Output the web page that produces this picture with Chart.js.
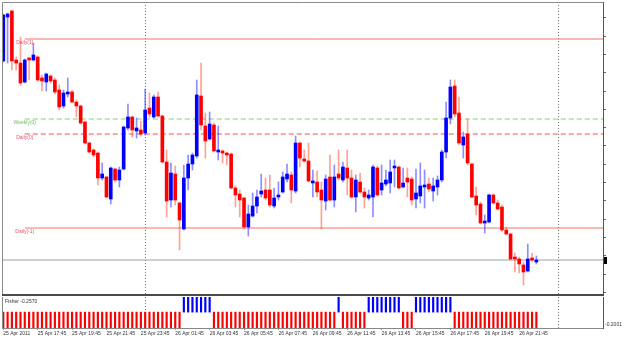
<!DOCTYPE html>
<html><head><meta charset="utf-8">
<script src="https://cdn.jsdelivr.net/npm/chart.js@4.4.0/dist/chart.umd.min.js"></script>
<style>
html,body{margin:0;padding:0;background:#fff;}
#wrap{position:relative;width:625px;height:339px;overflow:hidden;background:#fff;}
#main{position:absolute;left:0;top:0;}
#sub{position:absolute;left:0;top:296px;}
</style></head><body>
<div id="wrap"><canvas id="main" width="625" height="296"></canvas><canvas id="sub" width="625" height="43"></canvas></div>
<script>
// ---- data (M15 bars) ----
const openP = [1.4833,1.4877,1.4883,1.4834,1.4831,1.4812,1.4836,1.4834,1.4837,1.4816,1.4812,1.4818,1.4814,1.4804,1.4788,1.4800,1.4802,1.4792,1.4788,1.4772,
1.4751,1.4744,1.4741,1.4716,1.4717,1.4695,1.4725,1.4714,1.4725,1.4766,1.4777,1.4763,1.4764,1.4761,1.4786,1.4777,1.4797,1.4778,1.4732,1.4694,
1.4720,1.4691,1.4665,1.4716,1.4730,1.4738,1.4798,1.4768,1.4755,1.4769,1.4742,1.4743,1.4741,1.4740,1.4706,1.4700,1.4696,1.4667,1.4678,1.4688,
1.4700,1.4704,1.4704,1.4688,1.4697,1.4702,1.4715,1.4719,1.4703,1.4751,1.4735,1.4733,1.4711,1.4712,1.4704,1.4693,1.4717,1.4694,1.4720,1.4714,
1.4726,1.4716,1.4697,1.4712,1.4702,1.4696,1.4697,1.4726,1.4704,1.4710,1.4711,1.4726,1.4727,1.4707,1.4716,1.4715,1.4695,1.4698,1.4707,1.4710,
1.4703,1.4707,1.4714,1.4742,1.4776,1.4808,1.4781,1.4749,1.4760,1.4730,1.4698,1.4690,1.4671,1.4672,1.4699,1.4691,1.4687,1.4664,1.4660,1.4637,
1.4635,1.4629,1.4623,1.4636,1.4632];
const highP = [1.4880,1.4881,1.4884,1.4837,1.4857,1.4835,1.4837,1.4851,1.4838,1.4819,1.4821,1.4819,1.4816,1.4809,1.4804,1.4816,1.4804,1.4794,1.4789,1.4773,
1.4752,1.4745,1.4742,1.4731,1.4718,1.4727,1.4726,1.4727,1.4768,1.4790,1.4778,1.4776,1.4773,1.4805,1.4801,1.4799,1.4802,1.4779,1.4744,1.4731,
1.4728,1.4692,1.4729,1.4739,1.4741,1.4814,1.4831,1.4781,1.4782,1.4771,1.4768,1.4744,1.4742,1.4741,1.4708,1.4704,1.4697,1.4689,1.4701,1.4704,
1.4720,1.4716,1.4719,1.4706,1.4712,1.4722,1.4730,1.4722,1.4758,1.4752,1.4744,1.4751,1.4724,1.4723,1.4712,1.4719,1.4739,1.4729,1.4744,1.4732,
1.4744,1.4724,1.4719,1.4721,1.4706,1.4704,1.4729,1.4728,1.4729,1.4724,1.4734,1.4734,1.4728,1.4726,1.4726,1.4717,1.4725,1.4731,1.4724,1.4716,
1.4716,1.4718,1.4744,1.4792,1.4814,1.4814,1.4797,1.4762,1.4775,1.4731,1.4707,1.4692,1.4679,1.4700,1.4700,1.4694,1.4689,1.4667,1.4661,1.4641,
1.4637,1.4632,1.4650,1.4641,1.4638];
const lowP = [1.4832,1.4831,1.4824,1.4824,1.4809,1.4811,1.4814,1.4833,1.4813,1.4803,1.4803,1.4811,1.4800,1.4784,1.4786,1.4797,1.4791,1.4777,1.4770,1.4750,
1.4741,1.4737,1.4709,1.4714,1.4696,1.4690,1.4712,1.4707,1.4724,1.4764,1.4757,1.4756,1.4758,1.4759,1.4777,1.4776,1.4777,1.4731,1.4677,1.4687,
1.4689,1.4644,1.4664,1.4704,1.4724,1.4736,1.4764,1.4736,1.4754,1.4742,1.4734,1.4731,1.4729,1.4705,1.4687,1.4677,1.4665,1.4658,1.4677,1.4681,
1.4697,1.4694,1.4687,1.4686,1.4694,1.4701,1.4712,1.4691,1.4701,1.4727,1.4732,1.4712,1.4697,1.4697,1.4665,1.4684,1.4693,1.4687,1.4714,1.4712,
1.4699,1.4696,1.4682,1.4701,1.4686,1.4694,1.4677,1.4698,1.4699,1.4708,1.4701,1.4707,1.4705,1.4706,1.4697,1.4689,1.4686,1.4691,1.4686,1.4702,
1.4693,1.4699,1.4712,1.4736,1.4770,1.4777,1.4749,1.4736,1.4729,1.4696,1.4679,1.4670,1.4661,1.4671,1.4690,1.4684,1.4662,1.4659,1.4634,1.4622,
1.4621,1.4609,1.4622,1.4632,1.4630];
const closeP = [1.4879,1.4880,1.4833,1.4831,1.4811,1.4834,1.4834,1.4839,1.4814,1.4813,1.4820,1.4813,1.4802,1.4787,1.4801,1.4802,1.4792,1.4788,1.4771,1.4751,
1.4742,1.4739,1.4716,1.4720,1.4697,1.4726,1.4714,1.4724,1.4767,1.4777,1.4764,1.4766,1.4760,1.4784,1.4780,1.4797,1.4778,1.4732,1.4693,1.4721,
1.4694,1.4674,1.4716,1.4730,1.4739,1.4799,1.4769,1.4753,1.4770,1.4743,1.4744,1.4741,1.4739,1.4706,1.4699,1.4694,1.4667,1.4680,1.4688,1.4697,
1.4703,1.4696,1.4689,1.4696,1.4699,1.4717,1.4720,1.4704,1.4751,1.4736,1.4733,1.4713,1.4713,1.4702,1.4694,1.4715,1.4694,1.4717,1.4716,1.4727,
1.4716,1.4697,1.4714,1.4702,1.4697,1.4699,1.4727,1.4699,1.4711,1.4714,1.4722,1.4728,1.4706,1.4711,1.4712,1.4694,1.4701,1.4708,1.4709,1.4705,
1.4708,1.4714,1.4742,1.4776,1.4807,1.4780,1.4751,1.4757,1.4731,1.4697,1.4689,1.4671,1.4673,1.4699,1.4691,1.4685,1.4664,1.4660,1.4635,1.4635,
1.4630,1.4622,1.4635,1.4634,1.4634];
const fisher = [-1.12,-1.35,-1.58,-1.71,-1.86,-1.93,-1.98,-2.04,-2.11,-2.15,-2.19,-2.22,-2.27,-2.33,-2.36,-2.38,-2.41,-2.45,-2.52,-2.61,
-2.70,-2.78,-2.86,-2.90,-2.95,-2.89,-2.81,-2.70,-2.18,-1.64,-1.21,-0.95,-0.83,-0.61,-0.52,-0.38,-0.41,-0.66,-0.98,-1.07,
-1.12,-1.31,0.34,0.52,0.71,1.15,1.28,1.06,0.87,-0.31,-0.49,-0.66,-0.82,-1.10,-1.34,-1.55,-1.79,-1.83,-1.80,-1.71,
-1.62,-1.57,-1.54,-1.46,-1.39,-1.21,-1.02,-0.86,-0.58,-0.44,-0.47,-0.55,-0.61,-0.67,-0.52,-0.49,-0.36,-0.29,0.23,-0.25,
-0.27,-0.33,-0.31,-0.36,-0.40,0.21,0.35,0.39,0.42,0.51,0.63,0.66,0.48,-0.22,-0.30,-0.34,0.24,0.27,0.29,0.31,
0.33,0.38,0.56,0.94,1.42,-0.21,-0.28,-0.36,-0.49,-0.68,-0.87,-1.04,-1.12,-1.06,-1.10,-1.18,-1.29,-1.41,-1.55,-1.48,
-1.27,-0.98,-0.71,-0.44,-0.2570];
const timeTickIndex = [0,8,16,24,32,40,48,56,64,72,80,88,96,104,112,120];
const timeLabels = ['25 Apr 2011','25 Apr 17:45','25 Apr 19:45','25 Apr 21:45','25 Apr 23:45','26 Apr 01:45','26 Apr 03:45','26 Apr 05:45',
  '26 Apr 07:45','26 Apr 09:45','26 Apr 11:45','26 Apr 13:45','26 Apr 15:45','26 Apr 17:45','26 Apr 19:45','26 Apr 21:45'];
const daySeparators = [33, 129];
const levelNames = ['Daily(1)','Weekly(0)','Daily(0)','Daily(-1)'];
const levelValues = [1.4855, 1.4775, 1.4760, 1.4666];
const levelStartBar = 5;
const fisherTitle = 'Fisher -0.2570';
const fisherAxisMin = -0.2001;
const fisherAxisMax = 0.19;
const priceMin = 1.4600, priceMax = 1.4892;
const priceTickStart = 1.46017, priceTickStep = 0.00183;
const xMin = -0.3, xMax = 139.5;

// ---- styles ----
const FONT = '"Liberation Sans", Arial, sans-serif';
const BLUE = '#0000ff', RED = '#ff0000';
const levelLineColors = ['#f27563','#8dcc7d','#ff4b4b','#f27563'];
const levelDash = [[],[5,3],[5,3],[]];
const levelTextColors = ['#f0506a','#6cbf5c','#f0506a','#f0506a'];

const idx = openP.map((_, i) => i);
const bodies = idx.map(i => ({x: i, y: [openP[i], closeP[i]]}));
const wicks = idx.map(i => ({x: i, y: [lowP[i], highP[i]]}));
const bodyColors = idx.map(i => closeP[i] >= openP[i] ? BLUE : RED);
const wickColors = idx.map(i => closeP[i] >= openP[i] ? 'rgba(30,30,255,0.5)' : 'rgba(255,70,40,0.5)');
const lastClose = closeP[closeP.length - 1];

const levelDatasets = levelValues.map((v, k) => ({
  type: 'line', data: [{x: levelStartBar, y: v}, {x: xMax, y: v}],
  borderColor: levelLineColors[k], borderWidth: 1, borderDash: levelDash[k],
  pointRadius: 0, fill: false, order: 3
}));

const commonOpts = {
  responsive: false, animation: false, devicePixelRatio: 1, events: [],
  plugins: {legend: {display: false}, tooltip: {enabled: false}}
};

const sepPlugin = {
  id: 'sep',
  beforeDatasetsDraw(c) {
    const {ctx, chartArea: a, scales: {x}} = c;
    ctx.save();
    ctx.strokeStyle = '#7a7a7a'; ctx.lineWidth = 1; ctx.setLineDash([1, 2]);
    for (const s of daySeparators) {
      const px = Math.round(x.getPixelForValue(s)) + 0.5;
      ctx.beginPath(); ctx.moveTo(px, a.top); ctx.lineTo(px, a.bottom); ctx.stroke();
    }
    ctx.restore();
  }
};

const frameMain = {
  id: 'frameMain',
  afterDraw(c) {
    const {ctx, chartArea: a, scales: {x, y}} = c;
    ctx.save();
    ctx.strokeStyle = '#8a8a8a'; ctx.lineWidth = 1;
    ctx.beginPath(); ctx.moveTo(a.left + 0.5, a.bottom); ctx.lineTo(a.left + 0.5, a.top + 0.5); ctx.lineTo(a.right, a.top + 0.5); ctx.stroke();
    ctx.fillStyle = '#4a4a4a'; ctx.fillRect(a.left, a.bottom, a.right - a.left + 1, 2);
    ctx.font = '5px ' + FONT; ctx.textAlign = 'center'; ctx.textBaseline = 'top';
    levelNames.forEach((n, k) => {
      ctx.fillStyle = levelTextColors[k];
      ctx.fillText(n, x.getPixelForValue(levelStartBar), y.getPixelForValue(levelValues[k]) + 1.5);
    });
    const by = Math.round(y.getPixelForValue(lastClose));
    ctx.fillStyle = '#000'; ctx.fillRect(a.right + 1, by - 3, 3, 7);
    ctx.restore();
  }
};

const frameSub = {
  id: 'frameSub',
  afterDraw(c) {
    const {ctx, chartArea: a, scales: {y}} = c;
    ctx.save();
    ctx.strokeStyle = '#8a8a8a'; ctx.lineWidth = 1;
    ctx.beginPath(); ctx.moveTo(a.left + 0.5, a.top); ctx.lineTo(a.left + 0.5, a.bottom); ctx.stroke();
    ctx.font = '5px ' + FONT; ctx.textAlign = 'left'; ctx.textBaseline = 'top'; ctx.fillStyle = '#333';
    ctx.fillText(fisherTitle, a.left + 3, a.top + 2);
    ctx.textBaseline = 'bottom';
    ctx.fillText(fisherAxisMin.toFixed(4), a.right + 2, y.getPixelForValue(fisherAxisMin) - 1);
    ctx.restore();
  }
};

new Chart(document.getElementById('main'), {
  type: 'bar',
  data: {datasets: [
    {type: 'bar', data: bodies, backgroundColor: bodyColors, barThickness: 3, grouped: false, order: 1},
    {type: 'bar', data: wicks, backgroundColor: wickColors, barThickness: 1, grouped: false, order: 2},
    ...levelDatasets,
    {type: 'line', data: [{x: xMin, y: lastClose}, {x: xMax, y: lastClose}], borderColor: '#a0a0a0', borderWidth: 1, pointRadius: 0, order: 4}
  ]},
  options: Object.assign({}, commonOpts, {
    layout: {padding: {left: 2, top: 2, right: 0, bottom: 2}},
    scales: {
      x: {type: 'linear', display: false, min: xMin, max: xMax, offset: false, grid: {offset: false}},
      y: {
        position: 'right', min: priceMin, max: priceMax, beginAtZero: false,
        afterBuildTicks(s) { const t = []; for (let v = priceTickStart; v < priceMax; v += priceTickStep) t.push({value: v}); s.ticks = t; },
        afterFit(s) { s.width = 22; },
        ticks: {display: false},
        grid: {drawOnChartArea: false, drawTicks: true, tickLength: 3, color: '#666'},
        border: {display: true, color: '#555'}
      }
    }
  }),
  plugins: [sepPlugin, frameMain]
});

new Chart(document.getElementById('sub'), {
  type: 'bar',
  data: {datasets: [
    {type: 'bar', data: idx.map(i => ({x: i, y: fisher[i]})), backgroundColor: idx.map(i => fisher[i] >= 0 ? BLUE : RED),
     barThickness: 1.5, grouped: false}
  ]},
  options: Object.assign({}, commonOpts, {
    layout: {padding: {left: 2, top: 1, right: 0, bottom: 0}},
    scales: {
      x: {
        type: 'linear', min: xMin, max: xMax, offset: false,
        afterBuildTicks(s) { s.ticks = timeTickIndex.map(v => ({value: v})); },
        afterFit(s) { s.height = 11; },
        ticks: {autoSkip: false, maxRotation: 0, minRotation: 0, align: 'start', padding: 1, color: '#333',
          font: {size: 5, family: FONT}, callback: v => timeLabels[timeTickIndex.indexOf(v)]},
        grid: {drawOnChartArea: false, drawTicks: true, tickLength: 2, color: '#999', offset: false},
        border: {display: true, color: '#888'}
      },
      y: {
        position: 'right', min: fisherAxisMin, max: fisherAxisMax, beginAtZero: false,
        afterBuildTicks(s) { s.ticks = [{value: fisherAxisMin}]; },
        afterFit(s) { s.width = 22; },
        ticks: {display: false},
        grid: {drawOnChartArea: false, drawTicks: false},
        border: {display: true, color: '#555'}
      }
    }
  }),
  plugins: [sepPlugin, frameSub]
});
</script>
</body></html>
